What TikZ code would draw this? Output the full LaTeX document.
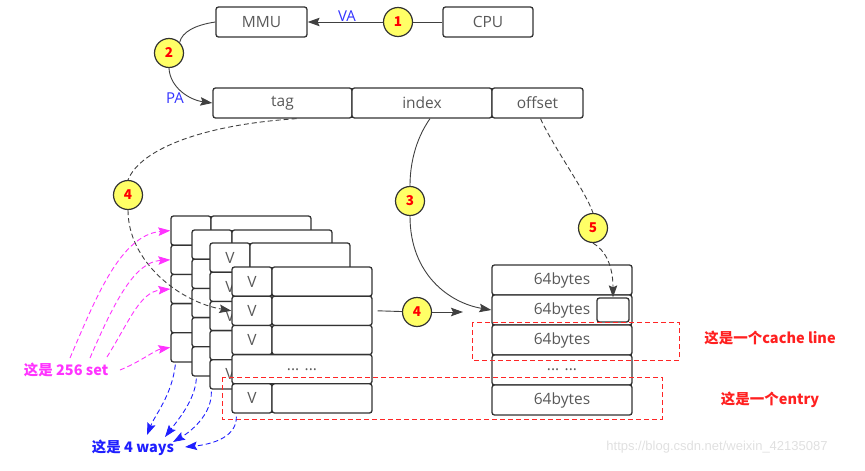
\documentclass[tikz,border=0pt]{standalone}
\usepackage{fontspec}
\setmainfont{Noto Sans CJK SC}
\newfontfamily\boxfont{Open Sans}
\newfontfamily\urlfont{Liberation Sans}
\usetikzlibrary{arrows.meta}

\definecolor{boxline}{HTML}{333333}
\definecolor{boxtext}{HTML}{595959}
\definecolor{stepfill}{HTML}{FFFF66}
\definecolor{setpink}{HTML}{FF33FF}
\definecolor{wayblue}{HTML}{1F1FFF}
\definecolor{notered}{HTML}{FF2020}

\begin{document}
\begin{tikzpicture}[
    x=1pt, y=-1pt,
    >={Stealth[length=12pt,width=8.5pt,inset=2pt]},
    cell/.style={
        draw=boxline, line width=1.3pt, rounded corners=2.5pt,
        fill=white, text=boxtext, inner sep=0pt,
        font=\boxfont\fontsize{15.5}{17}\selectfont, minimum height=30pt
    },
    stepnum/.style={
        circle, draw=boxline, line width=1.2pt, fill=stepfill,
        text=red, minimum size=29pt, inner sep=0pt,
        font=\fontsize{13.5}{15}\selectfont\bfseries
    },
    wire/.style={draw=black!75, line width=0.9pt},
    conn/.style={wire, ->},
    dconn/.style={conn, dash pattern=on 5pt off 3pt},
    pinkarr/.style={->, draw=setpink, line width=0.9pt, dash pattern=on 5pt off 3pt},
    bluearr/.style={->, draw=wayblue, line width=0.9pt, dash pattern=on 5pt off 3pt},
    redbox/.style={draw=red!85, line width=0.9pt, dash pattern=on 5pt off 3pt},
    addr/.style={font=\boxfont\fontsize{15}{17}\selectfont, text=blue!80},
    note/.style={font=\fontsize{14.5}{16}\selectfont\bfseries},
]
\useasboundingbox (0,0) rectangle (865,471);

% top: CPU -> MMU -> address fields
\node[cell, minimum width=91pt] (mmu) at (261.5,22) {MMU};
\node[cell, minimum width=90pt] (cpu) at (488,22) {CPU};
\node[cell, minimum width=139pt] (tag) at (282.5,103) {tag};
\node[cell, minimum width=140pt] (index) at (422,103) {index};
\node[cell, minimum width=91pt] (offset) at (537.5,103) {offset};

\node[stepnum] (c1) at (398,22) {1};
\node[stepnum] (c2) at (169,53) {2};
\node[addr] (valbl) at (347,16) {VA};
\node[addr] (palbl) at (175,98) {PA};

\draw[wire] (cpu.west) -- (c1.east);
\draw[conn] (c1.west) -- (mmu.east);
\draw[wire] (mmu.west) .. controls (195,25) and (182,32) .. (c2.north east);
\draw[conn] (c2.south) .. controls (170,88) and (190,100) .. (tag.west);

% the 4 ways, each with its sets
\foreach \lx/\ly/\w/\vt in {171/216/1/{}, 192/230/2/{}, 210/243/3/V, 232/267/4/V} {
  \foreach \r in {1,...,5} {
    \ifnum\r=4
      \node[cell, minimum width=140pt, minimum height=29.2pt] (w\w-v\r)
        at ({\lx+70}, {\ly+(\r-0.5)*29.2}) {\ifnum\w=4 ... ...\fi};
    \else
      \node[cell, minimum width=40pt, minimum height=29.2pt] (w\w-v\r)
        at ({\lx+20}, {\ly+(\r-0.5)*29.2}) {\vt};
      \node[cell, minimum width=100pt, minimum height=29.2pt] (w\w-d\r)
        at ({\lx+90}, {\ly+(\r-0.5)*29.2}) {};
    \fi
  }
}

% data of one cache line
\node[cell, minimum width=140pt] (b1) at (562,280) {64bytes};
\node[cell, minimum width=140pt] (b2) at (562,310) {64bytes};
\node[cell, minimum width=140pt] (b3) at (562,340) {64bytes};
\node[cell, minimum width=140pt] (b4) at (562,370) {... ...};
\node[cell, minimum width=140pt] (b5) at (562,400) {64bytes};
\node[cell, minimum width=32pt, minimum height=24pt] (sb) at (613,310) {};

% steps 3, 4, 5
\node[stepnum] (c3) at (410,201) {3};
\node[stepnum] (c4a) at (128,195) {4};
\node[stepnum] (c5) at (593,228) {5};
\node[stepnum] (c4b) at (417,312) {4};
\coordinate (c4tip) at (463,312);

\draw[wire] ([xshift=8pt]index.south) .. controls (415,140) and (410,165) .. (c3.north);
\draw[conn] (c3.south) .. controls (410,275) and (450,303) .. (b2.west);
\draw[wire, dash pattern=on 5pt off 3pt] ([xshift=14pt]tag.south) .. controls (200,125) and (140,150) .. (c4a.north);
\draw[dconn] (c4a.south) .. controls (128,262) and (180,302) .. (w4-v2.west);
\draw[wire, dash pattern=on 5pt off 3pt] ([xshift=3pt]offset.south) .. controls (555,150) and (585,190) .. (c5.north);
\draw[dconn] (c5.south) .. controls (605,250) and (613,265) .. (sb.north);
\draw[wire] ([xshift=5pt]w4-d2.east) -- (c4b);
\draw[conn] (c4b) -- (c4tip);

% marked cache line and entry
\draw[redbox] (472,322) rectangle (679,360);
\draw[redbox] (222,377) rectangle (662,419);
\node[note, text=notered] (linenote) at (770,338) {这是一个cache line};
\node[note, text=notered] (entrynote) at (770,400) {这是一个entry};

% sets and ways
\node[note, text=setpink] (set256) at (66,370) {这是 256 set};
\node[note, text=wayblue] (ways4) at (133,448) {这是 4 ways};

\draw[pinkarr] ([xshift=4pt,yshift=12pt]set256.center) .. controls (95,300) and (120,235) .. (w1-v1.west);
\draw[pinkarr] ([xshift=24pt,yshift=12pt]set256.center) .. controls (115,300) and (135,262) .. (w1-v2.west);
\draw[pinkarr] ([xshift=41pt,yshift=13pt]set256.center) .. controls (130,320) and (140,292) .. (w1-v3.west);
\draw[pinkarr] ([xshift=54pt]set256.center) .. controls (140,362) and (155,350) .. (w1-v5.west);

\draw[bluearr] ([xshift=5pt,yshift=-2pt]w1-v5.south west) .. controls (172,395) and (155,415) .. ([xshift=14pt,yshift=13pt]ways4.center);
\draw[bluearr] ([xshift=5pt,yshift=-2pt]w2-v5.south west) .. controls (195,400) and (178,420) .. ([xshift=32pt,yshift=11pt]ways4.center);
\draw[bluearr] ([xshift=2pt,yshift=-2pt]w3-v5.south west) .. controls (212,415) and (190,432) .. ([xshift=40pt,yshift=6pt]ways4.center);
\draw[bluearr] ([xshift=5pt,yshift=-3pt]w4-v5.south west) .. controls (237,440) and (205,445) .. ([xshift=52pt,yshift=1pt]ways4.center);

\node[font=\urlfont\fontsize{13}{15}\selectfont, text=black!12] (wm) at (717,447) {https://blog.csdn.net/weixin\_42135087};
\end{tikzpicture}
\end{document}
